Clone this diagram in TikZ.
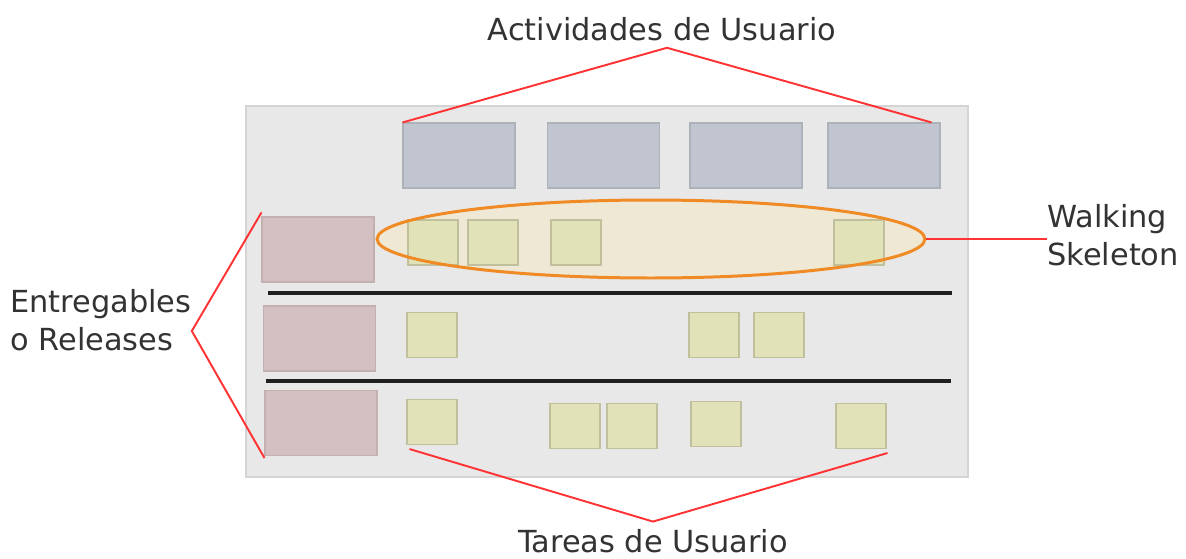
\documentclass[tikz,border=0pt]{standalone}
\usepackage{fontspec}
\setmainfont{DejaVu Sans}
\usetikzlibrary{positioning, shapes.geometric}

\definecolor{boardgray}{HTML}{E8E8E8}
\definecolor{boardline}{HTML}{D4D4D4}
\definecolor{actblue}{HTML}{C0C5CF}
\definecolor{relpink}{HTML}{D4C0C1}
\definecolor{taskgreen}{HTML}{E2E2B8}
\definecolor{skelfill}{HTML}{EFE8D4}
\definecolor{skelorange}{HTML}{F08A24}
\definecolor{markred}{HTML}{FF3333}

\begin{document}
\begin{tikzpicture}[
    x=0.02cm, y=-0.02cm,
    actbox/.style={draw=actblue!90!black, fill=actblue, line width=0.6pt, minimum width=2.24cm, minimum height=1.3cm},
    relbox/.style={draw=relpink!92!black, fill=relpink, line width=0.6pt, minimum width=2.24cm, minimum height=1.3cm},
    taskcard/.style={draw=taskgreen!85!black, fill=taskgreen, line width=0.6pt, minimum width=1cm, minimum height=0.9cm},
    caption/.style={font=\fontsize{17.3pt}{21.6pt}\selectfont, text=black!80, inner sep=0pt},
    marker/.style={draw=markred, line width=1.1pt}]

    \useasboundingbox (0,0) rectangle (1186,558);

    % board
    \draw[boardline, fill=boardgray, line width=1pt] (246,106) rectangle (968,477);

    % ellipse fill goes under the cards
    \node[ellipse, fill=skelfill, minimum width=10.96cm, minimum height=1.56cm, inner sep=0pt] (skelBack) at (651,239) {};

    % activities
    \node[actbox] (act1) at (459,155.5) {};
    \node[actbox] (act2) at (603.5,155.5) {};
    \node[actbox] (act3) at (746,155.5) {};
    \node[actbox] (act4) at (884,155.5) {};

    % releases
    \node[relbox] (rel1) at (318,249.5) {};
    \node[relbox] (rel2) at (319.5,338.5) {};
    \node[relbox] (rel3) at (321,423) {};

    % tasks, first release
    \node[taskcard] (t1a) at (433,242.5) {};
    \node[taskcard] (t1b) at (493,242.5) {};
    \node[taskcard] (t1c) at (576,242.5) {};
    \node[taskcard] (t1d) at (859,242.5) {};
    % tasks, second release
    \node[taskcard] (t2a) at (432,335) {};
    \node[taskcard] (t2b) at (714,335) {};
    \node[taskcard] (t2c) at (779,335) {};
    % tasks, third release
    \node[taskcard] (t3a) at (432,422) {};
    \node[taskcard] (t3b) at (575,426) {};
    \node[taskcard] (t3c) at (632,426) {};
    \node[taskcard] (t3d) at (716,424) {};
    \node[taskcard] (t3e) at (861,426) {};

    % walking skeleton outline
    \node[ellipse, draw=skelorange, line width=1.7pt, minimum width=10.96cm, minimum height=1.56cm, inner sep=0pt] (skel) at (651,239) {};

    % release separators
    \draw[black!88, line width=1.8pt] (268,293) -- (952,293);
    \draw[black!88, line width=1.8pt] (266,381) -- (951,381);

    % captions
    \node[caption, anchor=base] (actText) at (662,40) {Actividades de Usuario};
    \node[caption, anchor=base] (tarText) at (653,552) {Tareas de Usuario};
    \node[caption, anchor=west, align=left] (entText) at (10,320) {Entregables\\o Releases};
    \node[caption, anchor=west, align=left] (wsText) at (1047,235) {Walking\\Skeleton};

    % red markers
    \draw[marker] (act1.north west) -- ([xshift=0.1cm, yshift=-0.14cm]actText.south) -- ([xshift=-0.18cm]act4.north east);
    \draw[marker] ([yshift=0.08cm]rel1.north west) -- ([yshift=-0.22cm]entText.east) -- ([yshift=-0.04cm]rel3.south west);
    \draw[marker] ([xshift=0.06cm, yshift=-0.08cm]t3a.south west) -- ([yshift=0.14cm]tarText.north) -- ([xshift=0.02cm, yshift=-0.08cm]t3e.south east);
    \draw[marker] (skel.east) -- (skel.east -| wsText.west);

\end{tikzpicture}
\end{document}
